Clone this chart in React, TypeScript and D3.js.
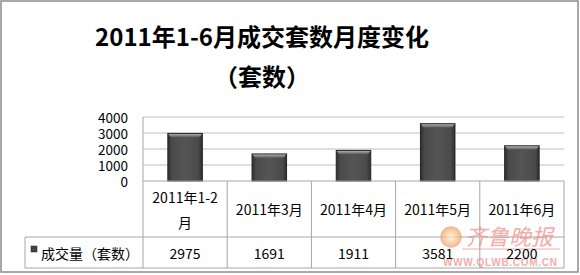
import React from "react";
import * as d3 from "d3";

const categories = ["2011年1-2月", "2011年3月", "2011年4月", "2011年5月", "2011年6月"];
const categoryLines = [["2011年1-2", "月"], ["2011年3月"], ["2011年4月"], ["2011年5月"], ["2011年6月"]];
const values = [2975, 1691, 1911, 3581, 2200];
const yTicks = [0, 1000, 2000, 3000, 4000];
const seriesName = "成交量（套数）";
const titleLine1 = "2011年1-6月成交套数月度变化";
const titleLine2 = "（套数）";

const W = 580;
const H = 275;
const plotLeft = 143;
const plotRight = 564;
const plotTop = 117;
const plotBottom = 181;
const tableMid = 237;
const tableBottom = 268;
const legendLeft = 25;
const font = "'Noto Sans CJK SC', 'Noto Sans', sans-serif";

export default function App() {
  const x = d3.scaleBand<string>().domain(categories).range([plotLeft, plotRight]).paddingInner(0).paddingOuter(0);
  const y = d3.scaleLinear().domain([0, 4000]).range([plotBottom, plotTop]);
  const bw = x.bandwidth() * 0.41;
  const gridColor = "#bdbdbd";
  const tableColor = "#a6a6a6";
  return (
    <svg width={W} height={H} style={{ position: "fixed", left: 0, top: 0, background: "#fff" }} fontFamily={font}>
      <defs>
        <linearGradient id="barG" x1="0" x2="1" y1="0" y2="0">
          <stop offset="0" stopColor="#2e2e2e" />
          <stop offset="0.12" stopColor="#4a4a4a" />
          <stop offset="0.5" stopColor="#555555" />
          <stop offset="0.88" stopColor="#4a4a4a" />
          <stop offset="1" stopColor="#2e2e2e" />
        </linearGradient>
        <linearGradient id="bevG" x1="0" x2="0" y1="0" y2="1">
          <stop offset="0" stopColor="#b0b0b0" />
          <stop offset="1" stopColor="#555555" />
        </linearGradient>
        <radialGradient id="logoG">
          <stop offset="0" stopColor="#fff3d8" />
          <stop offset="1" stopColor="#f0a060" />
        </radialGradient>
      </defs>
      <rect x={1} y={1} width={577} height={271} fill="#fff" stroke="#8c8c8c" strokeWidth={1.5} />
      <text x={262} y={35} textAnchor="middle" dominantBaseline="central" fontSize={24} fontWeight="bold" fill="#000">
        {titleLine1}
      </text>
      <text x={262} y={75} textAnchor="middle" dominantBaseline="central" fontSize={24} fontWeight="bold" fill="#000">
        {titleLine2}
      </text>
      {yTicks.map((t) => (
        <g key={t}>
          {t > 0 && <line x1={plotLeft} x2={plotRight} y1={y(t)} y2={y(t)} stroke={gridColor} strokeWidth={1} />}
          <text x={128} y={y(t)} textAnchor="end" dominantBaseline="central" fontSize={13.5} fill="#000">
            {t}
          </text>
        </g>
      ))}
      <line x1={plotLeft} x2={plotLeft} y1={plotTop} y2={plotBottom} stroke={tableColor} />
      {categories.map((c, i) => {
        const cx = (x(c) as number) + x.bandwidth() / 2;
        const top = y(values[i]);
        const h = plotBottom - top;
        const x0 = cx - bw / 2;
        const bev = 4;
        return (
          <g key={c}>
            <rect x={x0} y={top} width={bw} height={h} fill="url(#barG)" stroke="#262626" strokeWidth={1} />
            <path
              d={`M${x0 + 0.5},${top + 0.5} L${x0 + bw - 0.5},${top + 0.5} L${x0 + bw - 3},${top + bev} L${x0 + 3},${top + bev} Z`}
              fill="url(#bevG)"
            />
          </g>
        );
      })}
      {/* table */}
      <g stroke={tableColor} strokeWidth={1} fill="none">
        <line x1={plotLeft} x2={plotRight} y1={plotBottom} y2={plotBottom} />
        <line x1={legendLeft} x2={plotRight} y1={tableMid} y2={tableMid} />
        <line x1={legendLeft} x2={plotRight} y1={tableBottom} y2={tableBottom} />
        <line x1={legendLeft} x2={legendLeft} y1={tableMid} y2={tableBottom} />
        {categories.map((c) => (
          <line key={c} x1={x(c) as number} x2={x(c) as number} y1={plotBottom} y2={tableBottom} />
        ))}
        <line x1={plotRight} x2={plotRight} y1={plotBottom} y2={tableBottom} />
      </g>
      {/* watermark (under the table text) */}
      <g opacity={0.7}>
        <circle cx={451} cy={237} r={10} fill="url(#logoG)" stroke="#f0a060" strokeWidth={1.5} />
        <text x={465} y={235} dominantBaseline="central" fontSize={22} fill="#ee8a86" fontStyle="italic">
          齐鲁晚报
        </text>
        <line x1={462} x2={560} y1={249} y2={249} stroke="#ee8a86" strokeWidth={1} />
        <text x={443} y={262} dominantBaseline="central" fontSize={10} fontWeight="bold" fill="#ee8a86" fontFamily="'Liberation Sans', sans-serif" textLength={114}>
          WWW.QLWB.COM.CN
        </text>
      </g>
      {categories.map((c, i) => {
        const cx = (x(c) as number) + x.bandwidth() / 2;
        const lines = categoryLines[i];
        const mid = (plotBottom + tableMid) / 2;
        return (
          <g key={c}>
            {lines.map((l, j) => (
              <text
                key={j}
                x={cx}
                y={mid + (j - (lines.length - 1) / 2) * 25}
                textAnchor="middle"
                dominantBaseline="central"
                fontSize={14}
                fill="#000"
              >
                {l}
              </text>
            ))}
            <text x={cx} y={(tableMid + tableBottom) / 2} textAnchor="middle" dominantBaseline="central" fontSize={14} fill="#000">
              {values[i]}
            </text>
          </g>
        );
      })}
      <rect x={31} y={246} width={6} height={6} fill="#444" stroke="#222" strokeWidth={0.5} />
      <text x={41} y={(tableMid + tableBottom) / 2} dominantBaseline="central" fontSize={14} fill="#000">
        {seriesName}
      </text>
    </svg>
  );
}
